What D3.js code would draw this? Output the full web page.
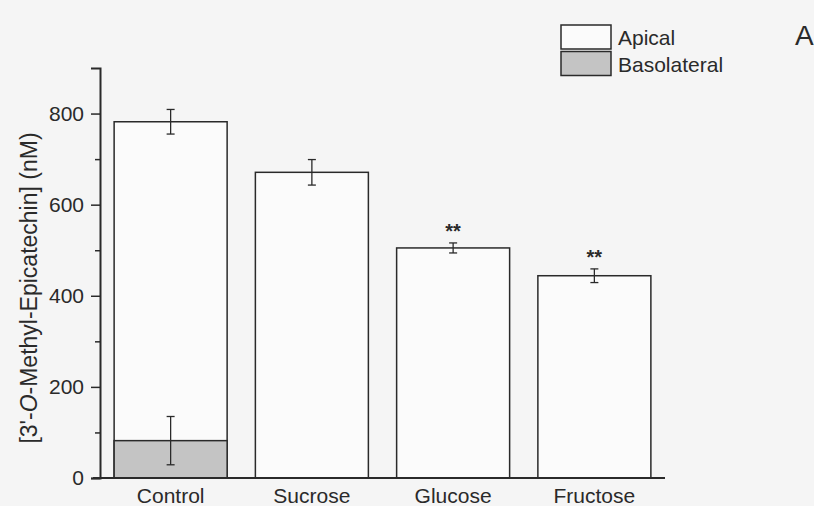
<!DOCTYPE html>
<html>
<head>
<meta charset="utf-8">
<script src="https://cdn.jsdelivr.net/npm/d3@7"></script>
<style>
  body { margin: 0; background: #f5f5f5; }
  svg { display: block; font-family: "Liberation Sans", Arial, sans-serif; }
</style>
</head>
<body>
<svg id="chart" width="814" height="506"></svg>
<script>
// values
var categories = ['Control', 'Sucrose', 'Glucose', 'Fructose'];
var apical = [782, 671, 505, 444];
var apicalErr = [27, 28, 11, 15];
var basolateral = [82, 0, 0, 0];
var basolateralErr = [53, 0, 0, 0];
var marks = ['', '', '**', '**'];
var majorTicks = [0, 200, 400, 600, 800];
var minorTicks = [100, 300, 500, 700];
var legendLabels = ['Apical', 'Basolateral'];

var ink = '#2a2a2a';
var fills = ['#fbfbfb', '#c4c4c4'];

var svg = d3.select('#chart');

var x = d3.scaleBand()
  .domain(categories)
  .range([100, 665])
  .paddingInner(0.2)
  .paddingOuter(0.1);

var y = d3.scaleLinear()
  .domain([0, 900])
  .range([478, 68]);

// apical bars (full height)
svg.selectAll('.apical')
  .data(categories)
  .enter().append('rect')
  .attr('class', 'apical')
  .attr('x', function (d) { return x(d); })
  .attr('width', x.bandwidth())
  .attr('y', function (d, i) { return y(apical[i]); })
  .attr('height', function (d, i) { return y(0) - y(apical[i]); })
  .attr('fill', fills[0])
  .attr('stroke', ink)
  .attr('stroke-width', 1.5);

// basolateral part, only where there is a value
var baso = categories.filter(function (d, i) { return basolateral[i] > 0; });
svg.selectAll('.baso')
  .data(baso)
  .enter().append('rect')
  .attr('class', 'baso')
  .attr('x', function (d) { return x(d); })
  .attr('width', x.bandwidth())
  .attr('y', function (d) { return y(basolateral[categories.indexOf(d)]); })
  .attr('height', function (d) { return y(0) - y(basolateral[categories.indexOf(d)]); })
  .attr('fill', fills[1])
  .attr('stroke', ink)
  .attr('stroke-width', 1.5);

// error bars
function errorBars(vals, errs, cls) {
  var g = svg.selectAll('.' + cls)
    .data(categories.filter(function (d, i) { return errs[i] > 0; }))
    .enter().append('g')
    .attr('class', cls)
    .attr('transform', function (d) { return 'translate(' + (x(d) + x.bandwidth() / 2) + ',0)'; });
  g.append('line')
    .attr('y1', function (d) { var i = categories.indexOf(d); return y(vals[i] + errs[i]); })
    .attr('y2', function (d) { var i = categories.indexOf(d); return y(vals[i] - errs[i]); });
  g.append('line')
    .attr('x1', -4).attr('x2', 4)
    .attr('y1', function (d) { var i = categories.indexOf(d); return y(vals[i] + errs[i]); })
    .attr('y2', function (d) { var i = categories.indexOf(d); return y(vals[i] + errs[i]); });
  g.append('line')
    .attr('x1', -4).attr('x2', 4)
    .attr('y1', function (d) { var i = categories.indexOf(d); return y(vals[i] - errs[i]); })
    .attr('y2', function (d) { var i = categories.indexOf(d); return y(vals[i] - errs[i]); });
  g.selectAll('line').attr('stroke', ink).attr('stroke-width', 1.3);
}
errorBars(apical, apicalErr, 'errA');
errorBars(basolateral, basolateralErr, 'errB');

// significance stars
svg.selectAll('.star')
  .data(categories.filter(function (d, i) { return marks[i]; }))
  .enter().append('text')
  .attr('class', 'star')
  .attr('x', function (d) { return x(d) + x.bandwidth() / 2; })
  .attr('y', function (d) { var i = categories.indexOf(d); return y(apical[i] + apicalErr[i]) - 5; })
  .attr('text-anchor', 'middle')
  .attr('font-size', 20)
  .attr('font-weight', 'bold')
  .attr('fill', ink)
  .text(function (d) { return marks[categories.indexOf(d)]; });

// y axis, major + minor ticks
var yAxis = svg.append('g')
  .attr('transform', 'translate(100,0)')
  .call(d3.axisLeft(y).tickValues(majorTicks).tickSize(9).tickPadding(7).tickFormat(d3.format('d')));
yAxis.select('.domain').attr('stroke', ink).attr('stroke-width', 2);
yAxis.selectAll('.tick line').attr('stroke', ink).attr('stroke-width', 1.5);
yAxis.selectAll('text').attr('font-size', 21).attr('fill', ink).attr('font-family', null);

var yMinor = svg.append('g')
  .attr('transform', 'translate(100,0)')
  .call(d3.axisLeft(y).tickValues(minorTicks).tickSize(5).tickFormat(''));
yMinor.select('.domain').remove();
yMinor.selectAll('.tick line').attr('stroke', ink).attr('stroke-width', 1.5);

// x axis
var xAxis = svg.append('g')
  .attr('transform', 'translate(0,' + y(0) + ')')
  .call(d3.axisBottom(x).tickSize(0).tickPadding(10));
xAxis.select('.domain').attr('d', 'M93,0H665').attr('stroke', ink).attr('stroke-width', 2);
xAxis.selectAll('text').attr('font-size', 21).attr('fill', ink).attr('font-family', null);

// y title with italic O
var title = svg.append('text')
  .attr('transform', 'translate(29,288) rotate(-90)')
  .attr('text-anchor', 'middle')
  .attr('dy', '0.35em')
  .attr('font-size', 23)
  .attr('fill', ink);
title.append('tspan').text("[3'-");
title.append('tspan').attr('font-style', 'italic').text('O');
title.append('tspan').text('-Methyl-Epicatechin] (nM)');

// legend
var legend = svg.selectAll('.legend')
  .data(legendLabels)
  .enter().append('g')
  .attr('class', 'legend')
  .attr('transform', function (d, i) { return 'translate(561,' + (25 + i * 26.5) + ')'; });
legend.append('rect')
  .attr('width', 50)
  .attr('height', 24)
  .attr('fill', function (d, i) { return fills[i]; })
  .attr('stroke', ink)
  .attr('stroke-width', 1.5);
legend.append('text')
  .attr('x', 57)
  .attr('y', 20)
  .attr('font-size', 21)
  .attr('fill', ink)
  .text(function (d) { return d; });

// panel letter
svg.append('text')
  .attr('x', 795)
  .attr('y', 45)
  .attr('font-size', 28)
  .attr('fill', ink)
  .text('A');
</script>
</body>
</html>
